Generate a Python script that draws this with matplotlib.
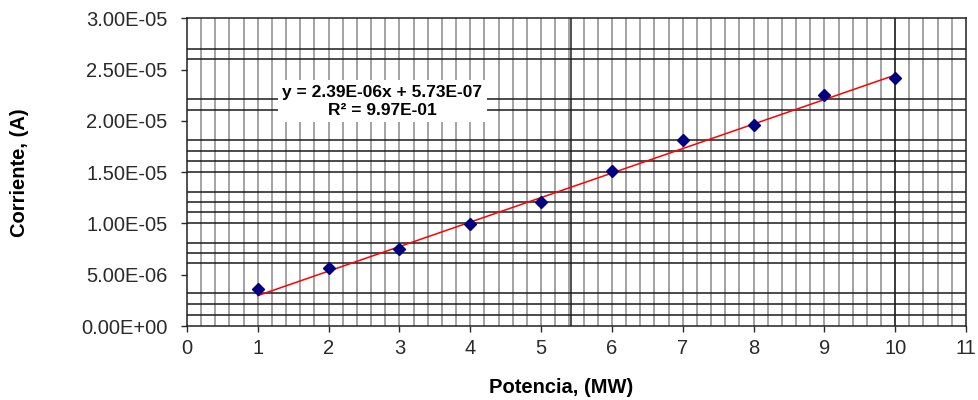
import numpy as np
import matplotlib
matplotlib.use('Agg')
from matplotlib import pyplot as plt
from matplotlib.ticker import FuncFormatter, MultipleLocator

# measured points
potencia = [1, 2, 3, 4, 5, 6, 7, 8, 9, 10]
corriente = [3.57e-6, 5.62e-6, 7.47e-6, 9.93e-6, 12.1e-6,
             15.1e-6, 18.18e-6, 19.57e-6, 22.56e-6, 24.2e-6]

# trend line as printed on the chart
slope = 2.39e-06
intercept = 5.73e-07
eq_text = 'y = 2.39E-06x + 5.73E-07\nR² = 9.97E-01'

# background graph paper lines
grid_h = [1.1e-6, 2.1e-6, 3.2e-6, 6.1e-6, 7.1e-6, 8.1e-6, 10e-6, 11.1e-6,
          12.1e-6, 13.1e-6, 15e-6, 16.1e-6, 17.1e-6, 18.1e-6, 21.1e-6,
          22.1e-6, 26e-6, 27e-6]
grid_v_dark = [5.42, 10]

plt.rcParams['font.family'] = ['Liberation Sans', 'DejaVu Sans']

fig = plt.figure(figsize=(9.79, 4), dpi=100)
ax = fig.add_axes([0.191, 0.185, 0.7957, 0.769])

ax.set_xlim(0, 11)
ax.set_ylim(0, 3e-5)

# grey verticals every 0.2
for xv in np.arange(0.2, 11, 0.2):
    ax.axvline(xv, color='#9c9c9c', lw=1.3, zorder=1)
for xv in grid_v_dark:
    ax.axvline(xv, color='#202020', lw=1.1, zorder=2)
for yv in grid_h:
    ax.axhline(yv, color='#1a1a1a', lw=1.1, zorder=2)

# trend line
xt = np.array([potencia[0], potencia[-1]])
ax.plot(xt, slope * xt + intercept, color='red', lw=1.1, zorder=4)

ax.plot(potencia, corriente, linestyle='none', marker='D', markersize=6.5,
        color='#000080', zorder=5)

ax.text(2.76, 2.19e-5, eq_text, ha='center', va='center', fontsize=12.5,
        fontweight='bold', linespacing=1.3, zorder=6,
        bbox=dict(facecolor='white', edgecolor='none', pad=3))

ax.xaxis.set_major_locator(MultipleLocator(1))
ax.yaxis.set_major_locator(MultipleLocator(5e-6))
ax.yaxis.set_major_formatter(FuncFormatter(lambda v, p: '%.2E' % v))
ax.tick_params(axis='both', direction='out', length=4, width=1,
               labelsize=14.5, colors='#2a2a2a')
ax.tick_params(axis='y', pad=10)
ax.tick_params(axis='x', pad=5)

for sp in ax.spines.values():
    sp.set_color('#202020')
    sp.set_linewidth(1.1)

ax.set_xlabel('Potencia, (MW)', fontsize=14.5, fontweight='bold')
ax.set_ylabel('Corriente, (A)', fontsize=14.5, fontweight='bold')
ax.xaxis.set_label_coords(0.48, -0.17)
ax.yaxis.set_label_coords(-0.203, 0.5)

plt.savefig('out.png', dpi=100)
